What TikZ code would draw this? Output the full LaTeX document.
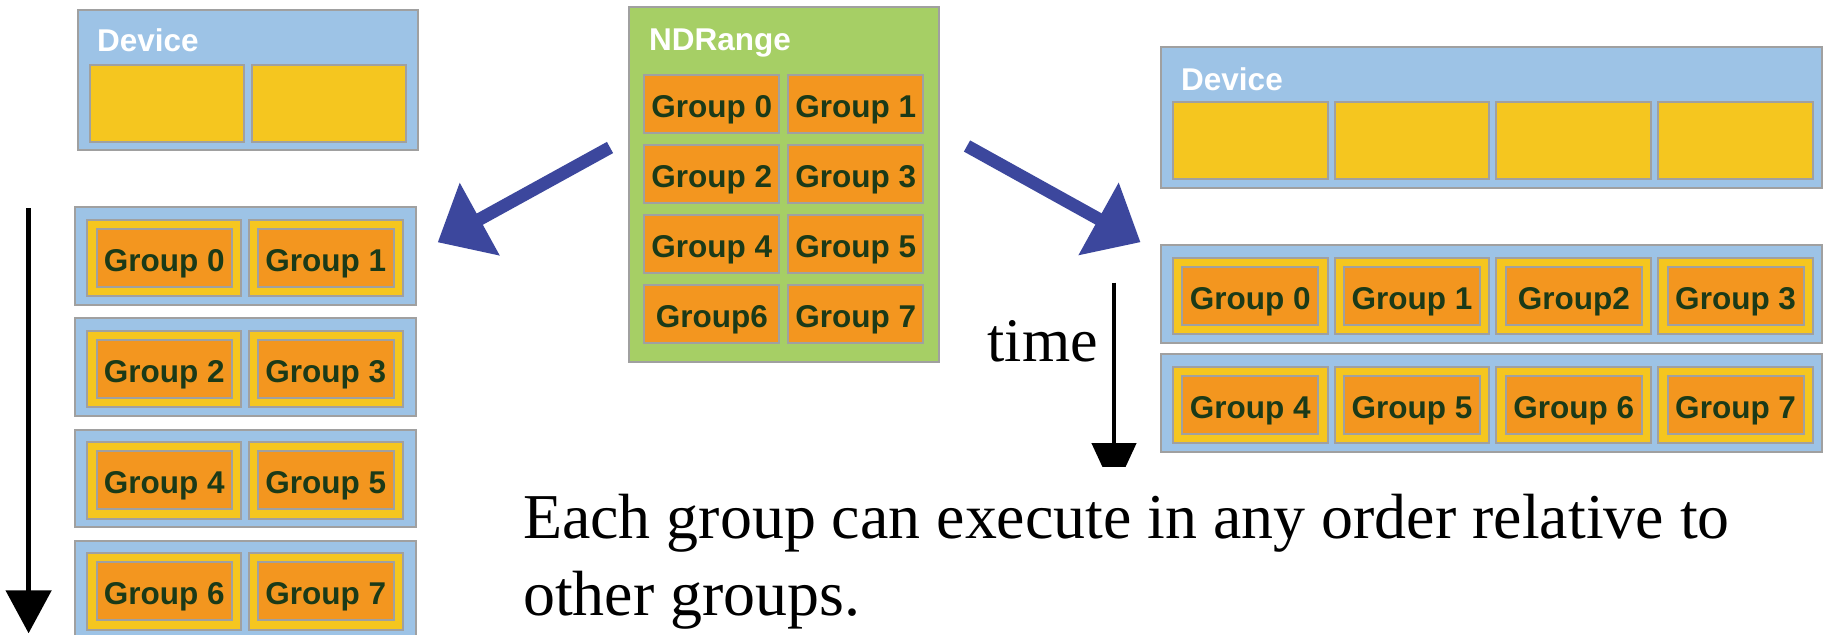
\documentclass[tikz,border=0pt]{standalone}
\usepackage{fontspec}
\setmainfont{Liberation Serif}
\newfontfamily\boxfont{Liberation Sans}
\usetikzlibrary{arrows.meta}

\definecolor{blueF}{RGB}{157,195,230}
\definecolor{yellowF}{RGB}{245,198,31}
\definecolor{orangeF}{RGB}{243,150,31}
\definecolor{greenF}{RGB}{166,207,101}
\definecolor{borderC}{RGB}{160,160,160}
\definecolor{textC}{RGB}{27,58,24}
\definecolor{arrowC}{RGB}{60,71,157}

\tikzset{
  boxbase/.style={rectangle, draw=borderC, line width=2pt, inner sep=0pt, outer sep=0pt, anchor=north west},
  panel/.style={boxbase, fill=blueF},
  ndpanel/.style={boxbase, fill=greenF},
  slot/.style={boxbase, fill=yellowF},
  grp/.style={boxbase, fill=orangeF, text=textC,
    font={\boxfont\bfseries\fontsize{31.5pt}{36pt}\selectfont},
    text height=27pt, text depth=0pt, minimum width=135pt, minimum height=58pt},
  title/.style={anchor=base west, inner sep=0pt, text=white,
    font={\boxfont\bfseries\fontsize{31.5pt}{36pt}\selectfont}},
  bodytext/.style={anchor=base west, inner sep=0pt, font={\fontsize{63.9pt}{77pt}\selectfont}},
  maparrow/.style={draw=arrowC, line width=12.8pt, -{Triangle[length=48pt,width=80pt]}},
  timeline/.style={draw=black, line width=5pt, -{Triangle[length=43pt,width=45pt]}},
  timeline2/.style={draw=black, line width=4.7pt, -{Triangle[length=49pt,width=44pt]}}
}

\begin{document}
\begin{tikzpicture}[x=1pt,y=-1pt]
\path[fill=white,use as bounding box] (0,0) rectangle (1827,634);

% ---------- left: a device with two compute units ----------
\node[panel, minimum width=340.5pt, minimum height=140pt] (ldev) at (77.5,10) {};
\node[title] (ldevtitle) at (97,51.7) {Device};
\node[slot, minimum width=153.5pt, minimum height=76.7pt] (lcore0) at (90,65) {};
\node[slot, minimum width=154.2pt, minimum height=76.7pt] (lcore1) at (251.5,65) {};

% two groups at a time, four passes
\foreach \r/\y/\a/\b in {0/207.3/0/1,1/318.4/2/3,2/429.5/4/5,3/540.6/6/7}{
  \node[panel, minimum width=341.7pt, minimum height=97.5pt] (lrow\r) at (74.5,\y) {};
  \node[slot, minimum width=154pt, minimum height=76.6pt] (lslot\r a) at (87,{\y+12.4}) {};
  \node[slot, minimum width=154.2pt, minimum height=76.6pt] (lslot\r b) at (248.5,{\y+12.4}) {};
  \node[grp] (lgrp\a) at (96.7,{\y+21.7}) {Group \a};
  \node[grp, minimum width=135.6pt] (lgrp\b) at (257.9,{\y+21.7}) {Group \b};
}

% ---------- centre: the NDRange ----------
\node[ndpanel, minimum width=310pt, minimum height=354.4pt] (nd) at (628.6,7.3) {};
\node[title] (ndtitle) at (649,50.7) {NDRange};
\foreach \i/\y/\ta/\tb in {0/74.7/Group 0/Group 1,1/144.9/Group 2/Group 3,
                           2/215.1/Group 4/Group 5,3/285.3/Group6/Group 7}{
  \node[grp] (ndg\i a) at (644.3,\y) {\ta};
  \node[grp] (ndg\i b) at (788.2,\y) {\tb};
}

% ---------- right: a device with four compute units ----------
\node[panel, minimum width=661.3pt, minimum height=140.4pt] (rdev) at (1160.7,47.3) {};
\node[title] (rdevtitle) at (1181,90) {Device};
\foreach \k in {0,...,3}{
  \node[slot, minimum width=154.8pt, minimum height=77pt] (rcore\k) at ({1172.8+161.8*\k},102.3) {};
}
\foreach \r/\y/\names in {0/245/{Group 0,Group 1,Group2,Group 3},
                          1/354.3/{Group 4,Group 5,Group 6,Group 7}}{
  \node[panel, minimum width=661.3pt, minimum height=97.5pt] (rrow\r) at (1160.7,\y) {};
  \foreach \t [count=\k from 0] in \names {
    \node[slot, minimum width=154.8pt, minimum height=76.3pt] (rslot\r\k) at ({1172.8+161.8*\k},{\y+12.7}) {};
    \node[grp, minimum width=136pt, minimum height=58.3pt] (rgrp\r\k) at ({1182.2+161.8*\k},{\y+21.7}) {\t};
  }
}

% ---------- mapping arrows ----------
\coordinate (ltail) at (610,147.5);
\coordinate (lhead) at (437.7,242.3);
\coordinate (rtail) at (967,146);
\coordinate (rhead) at (1140.5,242.2);
\draw[maparrow] (ltail) -- (lhead);
\draw[maparrow] (rtail) -- (rhead);

% ---------- time axes ----------
\coordinate (ltop) at (28.6,208);
\coordinate (lbot) at (28.6,633.3);
\draw[timeline] (ltop) -- (lbot);

\coordinate (rtop) at (1114,282.7);
\coordinate (rbot) at (1114,492);
\begin{scope}
  \clip (1050,270) rectangle (1180,466.7);
  \draw[timeline2] (rtop) -- (rbot);
\end{scope}
\node[anchor=base west, inner sep=0pt, font={\fontsize{62pt}{74pt}\selectfont}] (timelab) at (987.5,361.7) {time};

% ---------- caption ----------
\node[bodytext] (note1) at (523,538.3) {Each group can execute in any order relative to};
\node[bodytext] (note2) at (523,615.7) {other groups.};
\end{tikzpicture}
\end{document}
